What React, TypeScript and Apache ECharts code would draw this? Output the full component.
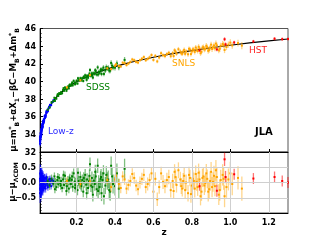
import React, { useEffect, useRef } from 'react';
import * as echarts from 'echarts';

// Lambda-CDM model curve
const modelZ = [0.01, 0.015, 0.02, 0.025, 0.03, 0.04, 0.05, 0.06, 0.07, 0.08, 0.1, 0.12, 0.15, 0.2, 0.25, 0.3, 0.35, 0.4, 0.45, 0.5, 0.6, 0.7, 0.8, 0.9, 1.0, 1.1, 1.2, 1.3];
const modelMu = [33.18, 34.06, 34.70, 35.19, 35.59, 36.24, 36.74, 37.15, 37.50, 37.81, 38.32, 38.74, 39.27, 39.96, 40.50, 40.96, 41.34, 41.68, 41.99, 42.26, 42.74, 43.15, 43.50, 43.82, 44.10, 44.36, 44.59, 44.81];

// Low-z sample
const lowzZ = [0.010, 0.011, 0.012, 0.013, 0.014, 0.015, 0.016, 0.017, 0.018, 0.019, 0.020, 0.021, 0.022, 0.023, 0.024, 0.025, 0.026, 0.027, 0.028, 0.029, 0.030, 0.032, 0.034, 0.036, 0.038, 0.040, 0.042, 0.045, 0.048, 0.051, 0.054, 0.057, 0.060, 0.064, 0.068, 0.072, 0.076, 0.080,
  0.0105, 0.0115, 0.0125, 0.0135, 0.0145, 0.0155, 0.0165, 0.0175, 0.0185, 0.0195, 0.0205, 0.022, 0.0245, 0.0265, 0.031, 0.035, 0.039, 0.044, 0.05, 0.062];
const lowzMu = [33.30, 33.18, 33.63, 33.67, 34.13, 33.91, 34.23, 34.04, 34.57, 34.53, 34.88, 34.69, 34.95, 34.79, 35.18, 35.17, 35.43, 35.26, 35.44, 35.34, 35.69, 35.68, 36.01, 35.86, 36.15, 36.16, 36.47, 36.47, 36.71, 36.63, 36.93, 37.13, 37.08, 37.34, 37.31, 37.64, 37.67, 37.86,
  32.93, 33.78, 33.41, 34.11, 33.79, 34.39, 33.92, 34.58, 34.31, 34.94, 34.60, 35.13, 34.90, 35.52, 35.49, 36.09, 35.98, 36.63, 36.64, 37.34];
const lowzRes = [0.12, -0.20, 0.05, -0.08, 0.22, -0.15, 0.02, -0.30, 0.10, -0.05, 0.18, -0.12, 0.04, -0.22, 0.08, -0.02, 0.15, -0.10, 0.00, -0.18, 0.10, -0.06, 0.14, -0.14, 0.03, -0.08, 0.12, -0.03, 0.06, -0.15, 0.02, 0.10, -0.07, 0.04, -0.12, 0.08, -0.02, 0.05,
  -0.35, 0.30, -0.25, 0.28, -0.20, 0.25, -0.35, 0.18, -0.22, 0.30, -0.15, 0.22, -0.25, 0.20, -0.18, 0.15, -0.20, 0.18, -0.10, 0.12];
const lowzErr = [0.30, 0.28, 0.27, 0.26, 0.25, 0.24, 0.23, 0.22, 0.21, 0.20, 0.20, 0.19, 0.18, 0.18, 0.17, 0.17, 0.16, 0.16, 0.15, 0.15, 0.15, 0.14, 0.14, 0.13, 0.13, 0.13, 0.12, 0.12, 0.12, 0.12, 0.11, 0.11, 0.11, 0.11, 0.11, 0.11, 0.10, 0.10,
  0.32, 0.30, 0.28, 0.27, 0.26, 0.25, 0.24, 0.23, 0.22, 0.21, 0.20, 0.19, 0.18, 0.17, 0.15, 0.14, 0.13, 0.12, 0.12, 0.11];

// SDSS sample
const sdssZ = [0.05, 0.06, 0.07, 0.08, 0.085, 0.09, 0.095, 0.10, 0.105, 0.11, 0.115, 0.12, 0.125, 0.13, 0.135, 0.14, 0.145, 0.15, 0.155, 0.16, 0.165, 0.17, 0.175, 0.18, 0.185, 0.19, 0.195, 0.20, 0.205, 0.21, 0.215, 0.22, 0.225, 0.23, 0.235, 0.24, 0.245, 0.25, 0.255, 0.26, 0.265, 0.27, 0.275, 0.28, 0.285, 0.29, 0.295, 0.30, 0.305, 0.31, 0.315, 0.32, 0.325, 0.33, 0.335, 0.34, 0.35, 0.36, 0.37, 0.38, 0.39, 0.42, 0.45,
  0.0875, 0.1025, 0.1175, 0.1325, 0.1475, 0.1625, 0.1775, 0.1925, 0.2075, 0.2225, 0.2375, 0.2525, 0.2675, 0.2825, 0.2975, 0.3125, 0.3275, 0.3425, 0.355, 0.365, 0.375, 0.385, 0.40, 0.41];
const sdssMu = [36.79, 37.05, 37.62, 37.77, 38.14, 38.09, 38.05, 38.40, 38.36, 38.67, 38.61, 38.79, 38.66, 39.03, 38.94, 39.32, 39.18, 39.15, 39.41, 39.22, 39.63, 39.51, 39.72, 39.56, 40.07, 39.86, 39.80, 40.08, 39.76, 40.12, 40.10, 40.37, 40.13, 40.38, 40.05, 40.42, 40.70, 40.43, 40.65, 40.42, 40.69, 41.29, 40.64, 40.93, 40.43, 40.93, 40.86, 41.16, 40.78, 41.59, 41.08, 40.97, 41.28, 40.85, 41.32, 41.57, 41.24, 41.46, 41.23, 42.10, 41.57, 41.60, 42.44,
  37.79, 38.55, 38.59, 39.23, 38.94, 39.54, 39.87, 39.68, 40.36, 40.17, 40.53, 40.18, 40.89, 40.66, 41.28, 40.78, 41.36, 40.85, 41.63, 41.55, 41.22, 41.79, 41.56, 42.04];
const sdssRes = [0.05, -0.10, 0.12, -0.04, 0.20, 0.02, -0.15, 0.08, -0.06, 0.15, -0.02, 0.05, -0.18, 0.10, -0.08, 0.22, 0.00, -0.12, 0.06, -0.20, 0.14, -0.05, 0.09, -0.14, 0.30, 0.03, -0.09, 0.12, -0.25, 0.05, -0.03, 0.18, -0.12, 0.08, -0.30, 0.02, 0.25, -0.07, 0.10, -0.18, 0.04, 0.60, -0.10, 0.15, -0.40, 0.06, -0.05, 0.20, -0.22, 0.55, 0.00, -0.15, 0.12, -0.35, 0.08, 0.30, -0.10, 0.05, -0.25, 0.55, -0.05, -0.20, 0.45,
  -0.22, 0.18, -0.10, 0.25, -0.28, 0.08, 0.20, -0.18, 0.32, -0.05, 0.15, -0.35, 0.22, -0.15, 0.35, -0.28, 0.18, -0.45, 0.25, 0.10, -0.30, 0.20, -0.12, 0.30];
const sdssErr = [0.15, 0.14, 0.14, 0.13, 0.13, 0.13, 0.13, 0.13, 0.13, 0.13, 0.13, 0.14, 0.14, 0.14, 0.14, 0.14, 0.14, 0.15, 0.15, 0.15, 0.15, 0.15, 0.16, 0.16, 0.16, 0.16, 0.16, 0.17, 0.17, 0.17, 0.17, 0.18, 0.18, 0.18, 0.18, 0.19, 0.19, 0.19, 0.20, 0.20, 0.20, 0.22, 0.21, 0.21, 0.22, 0.22, 0.22, 0.23, 0.23, 0.24, 0.24, 0.25, 0.25, 0.26, 0.26, 0.27, 0.28, 0.29, 0.30, 0.30, 0.31, 0.32, 0.33,
  0.13, 0.13, 0.14, 0.14, 0.15, 0.15, 0.16, 0.16, 0.17, 0.18, 0.19, 0.20, 0.21, 0.21, 0.23, 0.24, 0.26, 0.27, 0.28, 0.29, 0.30, 0.31, 0.31, 0.32];

// SNLS sample
const snlsZ = [0.15, 0.22, 0.27, 0.36, 0.38, 0.40, 0.42, 0.44, 0.46, 0.48, 0.50, 0.51, 0.53, 0.55, 0.56, 0.58, 0.60, 0.61, 0.62, 0.64, 0.65, 0.66, 0.68, 0.69, 0.70, 0.71, 0.72, 0.74, 0.75, 0.76, 0.77, 0.78, 0.79, 0.80, 0.81, 0.82, 0.83, 0.84, 0.85, 0.86, 0.87, 0.88, 0.89, 0.90, 0.91, 0.92, 0.93, 0.94, 0.95, 0.96, 0.98, 0.99, 1.01, 1.04, 1.06,
  0.405, 0.43, 0.45, 0.47, 0.49, 0.52, 0.54, 0.57, 0.59, 0.63, 0.67, 0.705, 0.715, 0.73, 0.745, 0.755, 0.765, 0.785, 0.795, 0.805, 0.815, 0.825, 0.835, 0.845, 0.855, 0.865, 0.875, 0.885, 0.895, 0.905, 0.915, 0.925, 0.945, 0.965, 0.97, 1.0];
const snlsMu = [39.32, 40.14, 40.72, 41.49, 41.40, 41.78, 41.75, 42.13, 41.85, 42.21, 42.41, 42.21, 42.41, 42.76, 42.40, 42.73, 42.44, 42.90, 42.27, 43.20, 42.97, 42.87, 43.25, 42.86, 43.20, 43.53, 43.14, 43.39, 43.13, 43.58, 43.40, 43.08, 43.62, 43.40, 43.59, 43.85, 43.45, 43.73, 43.36, 43.89, 43.70, 43.88, 43.57, 44.17, 43.87, 43.76, 44.08, 43.53, 44.04, 44.24, 43.90, 44.17, 44.08, 44.35, 44.06,
  41.93, 41.69, 42.09, 42.02, 42.49, 42.14, 42.58, 42.55, 42.99, 42.71, 43.11, 42.88, 43.38, 43.65, 43.19, 43.39, 43.13, 43.70, 43.10, 43.64, 43.35, 43.60, 43.93, 43.20, 43.83, 43.61, 44.04, 43.47, 43.85, 43.68, 44.08, 44.29, 43.70, 44.12, 43.57, 44.40];
const snlsRes = [0.05, -0.05, 0.03, 0.08, -0.15, 0.10, -0.05, 0.20, -0.20, 0.05, 0.15, -0.10, 0.00, 0.25, -0.15, 0.08, -0.30, 0.12, -0.55, 0.30, 0.02, -0.12, 0.18, -0.25, 0.05, 0.35, -0.08, 0.10, -0.20, 0.22, 0.00, -0.35, 0.15, -0.10, 0.05, 0.28, -0.15, 0.10, -0.30, 0.20, -0.02, 0.12, -0.22, 0.35, 0.02, -0.12, 0.18, -0.40, 0.08, 0.25, -0.15, 0.10, -0.05, 0.15, -0.20,
  0.22, -0.18, 0.10, -0.08, 0.28, -0.22, 0.12, -0.05, 0.30, -0.15, 0.08, -0.28, 0.18, 0.40, -0.12, 0.05, -0.25, 0.25, -0.38, 0.12, -0.20, 0.02, 0.32, -0.45, 0.15, -0.10, 0.30, -0.30, 0.05, -0.15, 0.22, 0.40, -0.25, 0.12, -0.45, 0.30];
const snlsErr = [0.12, 0.13, 0.14, 0.15, 0.16, 0.16, 0.17, 0.17, 0.18, 0.18, 0.19, 0.19, 0.20, 0.20, 0.20, 0.21, 0.21, 0.22, 0.22, 0.22, 0.23, 0.23, 0.24, 0.24, 0.24, 0.25, 0.25, 0.25, 0.26, 0.26, 0.26, 0.27, 0.27, 0.28, 0.28, 0.28, 0.29, 0.29, 0.30, 0.30, 0.30, 0.31, 0.31, 0.32, 0.32, 0.33, 0.33, 0.34, 0.34, 0.35, 0.35, 0.36, 0.37, 0.38, 0.40,
  0.16, 0.17, 0.18, 0.18, 0.19, 0.20, 0.20, 0.21, 0.21, 0.22, 0.24, 0.25, 0.25, 0.26, 0.26, 0.26, 0.27, 0.27, 0.28, 0.28, 0.29, 0.29, 0.30, 0.30, 0.30, 0.31, 0.31, 0.32, 0.32, 0.33, 0.33, 0.34, 0.35, 0.36, 0.36, 0.38];

// HST sample
const hstZ = [0.84, 0.93, 0.97, 0.975, 1.02, 1.12, 1.23, 1.27, 1.30];
const hstMu = [43.51, 43.63, 44.78, 44.21, 44.42, 44.53, 44.84, 44.79, 44.81];
const hstRes = [-0.12, -0.27, 0.76, 0.18, 0.27, 0.13, 0.18, 0.05, 0.00];
const hstErr = [0.15, 0.20, 0.22, 0.20, 0.18, 0.18, 0.18, 0.18, 0.18];

const xTicks = [0.2, 0.4, 0.6, 0.8, 1.0, 1.2];
const resTicks = [-0.5, 0.0, 0.5];

const FONT = 'DejaVu Sans';

function errRender(pt: string, bar: string) {
  return (params: any, api: any) => {
    const cs = params.coordSys;
    const x = api.value(0);
    const y = api.value(1);
    const e = api.value(2);
    const c = api.coord([x, y]);
    const top = cs.y;
    const bot = cs.y + cs.height;
    const clamp = (v: number) => Math.max(top, Math.min(bot, v));
    const y1 = clamp(api.coord([x, y + e])[1]);
    const y2 = clamp(api.coord([x, y - e])[1]);
    const children: any[] = [
      { type: 'line', shape: { x1: c[0], y1, x2: c[0], y2 }, style: { stroke: bar, lineWidth: 1.3 } },
    ];
    if (c[1] >= top && c[1] <= bot) {
      children.push({ type: 'rect', shape: { x: c[0] - 1, y: c[1] - 1, width: 2, height: 2 }, style: { fill: pt } });
    }
    return { type: 'group', children };
  };
}

const samples = [
  { z: lowzZ, mu: lowzMu, res: lowzRes, err: lowzErr, pt: '#0000ff', bar: 'rgba(0,0,255,0.55)' },
  { z: sdssZ, mu: sdssMu, res: sdssRes, err: sdssErr, pt: '#008000', bar: 'rgba(0,128,0,0.5)' },
  { z: snlsZ, mu: snlsMu, res: snlsRes, err: snlsErr, pt: '#ffa500', bar: 'rgba(255,165,0,0.45)' },
  { z: hstZ, mu: hstMu, res: hstRes, err: hstErr, pt: '#ff0000', bar: 'rgba(255,0,0,0.55)' },
];

export default function App() {
  const ref = useRef<HTMLDivElement>(null);
  useEffect(() => {
    if (!ref.current) return;
    const chart = echarts.init(ref.current, undefined, { renderer: 'svg' });
    const labelStyle = { fontFamily: FONT, fontWeight: 'bold' as const, fontSize: 8, color: '#000' };
    const series: any[] = [];
    series.push({
      type: 'line', xAxisIndex: 0, yAxisIndex: 0, silent: true, z: 1,
      showSymbol: false, symbol: 'none',
      lineStyle: { color: '#000', width: 1.2 },
      data: modelZ.map((z, i) => [z, modelMu[i]]),
    });
    series.push({
      type: 'line', xAxisIndex: 1, yAxisIndex: 1, silent: true, z: 1,
      data: [],
      markLine: {
        silent: true, symbol: 'none', label: { show: false },
        lineStyle: { color: '#cfcfcf', type: 'solid', width: 1 },
        data: [...xTicks.map((v) => ({ xAxis: v })), ...resTicks.map((v) => ({ yAxis: v }))],
      },
    });
    samples.forEach((s) => {
      series.push({
        type: 'custom', xAxisIndex: 0, yAxisIndex: 0, silent: true, z: 2,
        renderItem: errRender(s.pt, s.bar),
        data: s.z.map((z, i) => [z, s.mu[i], s.err[i]]),
      });
    });
    samples.forEach((s) => {
      series.push({
        type: 'custom', xAxisIndex: 1, yAxisIndex: 1, silent: true, z: 2,
        renderItem: errRender(s.pt, s.bar),
        data: s.z.map((z, i) => [z, s.res[i], s.err[i]]),
      });
    });

    const xBase = {
      type: 'value', min: 0.01, max: 1.3,
      axisLine: { show: true, onZero: false, lineStyle: { color: '#000', width: 1 } },
      axisTick: { show: true, inside: true, length: 3, customValues: xTicks, lineStyle: { color: '#000' } },
      splitLine: { show: false },
    };

    chart.setOption({
      animation: false,
      grid: [
        { left: 40, right: 32, top: 28.5, height: 123.5, show: true, borderColor: '#555', borderWidth: 1, backgroundColor: 'transparent' },
        { left: 40, right: 32, top: 152, height: 61, show: true, borderColor: '#555', borderWidth: 1, backgroundColor: 'transparent' },
      ],
      xAxis: [
        { ...xBase, gridIndex: 0, axisLabel: { show: false } },
        {
          ...xBase, gridIndex: 1,
          axisLabel: { ...labelStyle, margin: 5, customValues: xTicks, formatter: (v: number) => v.toFixed(1) },
          name: 'z', nameLocation: 'middle', nameGap: 14,
          nameTextStyle: { fontFamily: FONT, fontWeight: 'bold', fontSize: 9, color: '#000' },
        },
      ],
      yAxis: [
        {
          type: 'value', gridIndex: 0, min: 32, max: 46, interval: 2,
          axisLine: { show: true, onZero: false, lineStyle: { color: '#000' } },
          axisTick: { show: true, inside: true, length: 3, lineStyle: { color: '#000' } },
          minorTick: { show: true, splitNumber: 4, length: 1.5, lineStyle: { color: '#000' } },
          axisLabel: { ...labelStyle, margin: 4 },
          splitLine: { show: false },
        },
        {
          type: 'value', gridIndex: 1, min: -1, max: 1, interval: 0.5,
          axisLine: { show: true, onZero: false, lineStyle: { color: '#000' } },
          axisTick: { show: true, inside: true, length: 3, lineStyle: { color: '#000' } },
          minorTick: { show: true, splitNumber: 5, length: 1.5, lineStyle: { color: '#000' } },
          axisLabel: {
            ...labelStyle, margin: 4,
            formatter: (v: number) => (Math.abs(v) > 0.9 ? '' : v.toFixed(1).replace('-', '\u2212')),
          },
          splitLine: { show: false },
        },
      ],
      graphic: [
        {
          type: 'text', x: 13, y: 90, rotation: Math.PI / 2,
          style: {
            text: '{b|\u03bc=m}{p|*}{s|B}{b|+\u03b1X}{s|1}{b|\u2212\u03b2C\u2212M}{s|B}{b|+\u0394m}{p|*}{s|B}',
            align: 'center', verticalAlign: 'middle', fill: '#000',
            rich: {
              b: { fontFamily: FONT, fontWeight: 'bold', fontSize: 8.5, lineHeight: 12, verticalAlign: 'middle', fill: '#000' },
              s: { fontFamily: FONT, fontWeight: 'bold', fontSize: 6, lineHeight: 7, verticalAlign: 'bottom', fill: '#000' },
              p: { fontFamily: FONT, fontWeight: 'bold', fontSize: 6, lineHeight: 7, verticalAlign: 'top', fill: '#000' },
            },
          },
        },
        {
          type: 'text', x: 12, y: 182, rotation: Math.PI / 2,
          style: {
            text: '{b|\u03bc\u2212\u03bc}{s|\u039bCDM}',
            align: 'center', verticalAlign: 'middle', fill: '#000',
            rich: {
              b: { fontFamily: FONT, fontWeight: 'bold', fontSize: 8.5, lineHeight: 12, verticalAlign: 'middle', fill: '#000' },
              s: { fontFamily: FONT, fontWeight: 'bold', fontSize: 6, lineHeight: 7, verticalAlign: 'bottom', fill: '#000' },
            },
          },
        },
        { type: 'text', x: 48, y: 131, style: { text: 'Low-z', fill: '#2a2aff', fontFamily: FONT, fontSize: 9, align: 'left', verticalAlign: 'middle' } },
        { type: 'text', x: 86, y: 87, style: { text: 'SDSS', fill: '#008000', fontFamily: FONT, fontSize: 9, align: 'left', verticalAlign: 'middle' } },
        { type: 'text', x: 172, y: 63, style: { text: 'SNLS', fill: '#ffa500', fontFamily: FONT, fontSize: 9, align: 'left', verticalAlign: 'middle' } },
        { type: 'text', x: 249, y: 50, style: { text: 'HST', fill: '#ff2020', fontFamily: FONT, fontSize: 9, align: 'left', verticalAlign: 'middle' } },
        { type: 'text', x: 255, y: 131, style: { text: 'JLA', fill: '#000', fontFamily: FONT, fontSize: 10, fontWeight: 'bold', align: 'left', verticalAlign: 'middle' } },
      ],
      series,
    });
    return () => chart.dispose();
  }, []);
  return <div ref={ref} style={{ position: 'fixed', left: 0, top: 0, width: 320, height: 240 }} />;
}
